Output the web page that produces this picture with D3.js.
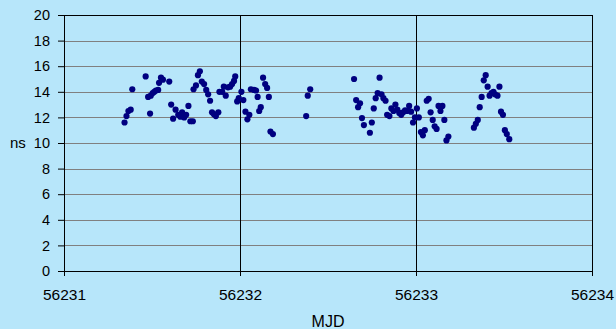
<!DOCTYPE html>
<html>
<head>
<meta charset="utf-8">
<script src="https://cdn.jsdelivr.net/npm/d3@7"></script>
<style>
  html, body { margin: 0; padding: 0; background: #b7e6fa; }
  svg { display: block; }
  text { font-family: "Liberation Sans", Arial, sans-serif; fill: #000; }
</style>
</head>
<body>
<div id="chart"></div>
<script>
// MJD of each measurement
const mjd = [
  56231.344, 56231.355, 56231.366, 56231.379, 56231.388, 56231.464, 56231.478, 56231.489,
  56231.493, 56231.504, 56231.513, 56231.522, 56231.535, 56231.540, 56231.551, 56231.562,
  56231.598, 56231.609, 56231.620, 56231.634, 56231.649, 56231.661, 56231.671, 56231.683,
  56231.694, 56231.707, 56231.718, 56231.732, 56231.736, 56231.750, 56231.761, 56231.772,
  56231.783, 56231.796, 56231.808, 56231.819, 56231.830, 56231.841, 56231.852, 56231.863,
  56231.877, 56231.883, 56231.899, 56231.908, 56231.919, 56231.932, 56231.944, 56231.955,
  56231.966, 56231.973, 56231.984, 56231.993, 56232.008, 56232.019, 56232.031, 56232.042,
  56232.053, 56232.062, 56232.080, 56232.091, 56232.100, 56232.109, 56232.118, 56232.131,
  56232.143, 56232.154, 56232.164, 56232.173, 56232.187,
  56232.376, 56232.385, 56232.399,
  56232.648, 56232.660, 56232.671, 56232.682, 56232.693, 56232.704, 56232.738, 56232.749,
  56232.760, 56232.771, 56232.782, 56232.793, 56232.804, 56232.815, 56232.827, 56232.836,
  56232.849, 56232.860, 56232.872, 56232.883, 56232.894, 56232.905, 56232.916, 56232.927,
  56232.938, 56232.949, 56232.961, 56232.972, 56232.983, 56232.994, 56233.005, 56233.016,
  56233.028, 56233.039, 56233.050, 56233.061, 56233.072, 56233.083, 56233.095, 56233.106,
  56233.117, 56233.128, 56233.139, 56233.150, 56233.161, 56233.173, 56233.184,
  56233.329, 56233.340, 56233.351, 56233.362, 56233.373, 56233.385, 56233.396, 56233.407,
  56233.418, 56233.429, 56233.440, 56233.449, 56233.463, 56233.474, 56233.483, 56233.494,
  56233.505, 56233.516, 56233.530
];
// offset in ns
const ns = [
  11.6, 12.1, 12.5, 12.6, 14.2, 15.2, 13.6, 12.3,
  13.7, 13.9, 14.0, 14.1, 14.15, 14.7, 15.1, 14.95,
  14.8, 13.0, 11.9, 12.6, 12.2, 12.05, 12.4, 12.0,
  12.2, 12.9, 11.7, 11.7, 14.2, 14.5, 15.3, 15.6,
  14.8, 14.6, 14.15, 13.8, 13.3, 12.4, 12.25, 12.1,
  12.4, 14.0, 14.0, 14.4, 13.7, 14.35, 14.4, 14.6,
  14.85, 15.2, 13.25, 13.5, 14.0, 13.35, 12.45, 11.85,
  12.2, 14.2, 14.15, 14.1, 13.6, 12.5, 12.8, 15.1,
  14.6, 14.3, 13.6, 10.9, 10.7,
  12.1, 13.7, 14.2,
  15.0, 13.35, 12.8, 13.1, 11.95, 11.4, 10.8, 11.6,
  12.7, 13.5, 13.9, 15.1, 13.8, 13.5, 13.3, 12.2,
  12.1, 12.7, 12.5, 13.0, 12.6, 12.35, 12.2, 12.4,
  12.55, 12.5, 12.9, 12.45, 11.6, 12.0, 12.7, 12.0,
  10.85, 10.6, 11.0, 13.3, 13.45, 12.4, 11.8, 11.3,
  11.1, 12.9, 12.5, 12.9, 11.8, 10.2, 10.5,
  11.2, 11.5, 11.8, 12.8, 13.6, 14.9, 15.3, 14.4,
  13.7, 13.9, 14.0, 13.8, 13.7, 14.4, 12.45, 12.2,
  11.0, 10.7, 10.3
];
const xTicks = [56231, 56232, 56233, 56234];
const yTicks = [0, 2, 4, 6, 8, 10, 12, 14, 16, 18, 20];

const W = 616, H = 329;
const margin = { top: 15, right: 24, bottom: 58, left: 64 };
const width = W - margin.left - margin.right;
const height = H - margin.top - margin.bottom;

const svg = d3.select('#chart').append('svg')
  .attr('width', W).attr('height', H);
const g = svg.append('g')
  .attr('transform', `translate(${margin.left},${margin.top})`);

const x = d3.scaleLinear().domain([56231, 56234]).range([0, width]);
const y = d3.scaleLinear().domain([0, 20]).range([height, 0]);

// horizontal gridlines (grey), top one black
g.selectAll('.hgrid').data(yTicks.filter(d => d > 0))
  .enter().append('line')
  .attr('x1', 0).attr('x2', width)
  .attr('y1', d => Math.round(y(d)) + 0.5).attr('y2', d => Math.round(y(d)) + 0.5)
  .attr('stroke', d => d === 20 ? '#000' : '#808080')
  .attr('stroke-width', 1);

// vertical gridlines (black)
g.selectAll('.vgrid').data(xTicks.filter(d => d > 56231))
  .enter().append('line')
  .attr('x1', d => Math.round(x(d)) + 0.5).attr('x2', d => Math.round(x(d)) + 0.5)
  .attr('y1', 0).attr('y2', height)
  .attr('stroke', '#000').attr('stroke-width', 1);

// axes
const yAxis = g.append('g')
  .call(d3.axisLeft(y).tickValues(yTicks).tickSize(6).tickPadding(8).tickFormat(d3.format('d')));
yAxis.select('.domain').attr('d', `M0.5,0V${height}`);
yAxis.selectAll('text').style('font-size', '14.5px').attr('font-family', null);

const xAxis = g.append('g')
  .attr('transform', `translate(0,${height})`)
  .call(d3.axisBottom(x).tickValues(xTicks).tickSize(5).tickPadding(13).tickFormat(d3.format('d')));
xAxis.select('.domain').attr('d', `M0,0.5H${width}`);
xAxis.selectAll('text').style('font-size', '15.5px').attr('font-family', null);

g.selectAll('.domain').attr('stroke', '#000');
g.selectAll('.tick line').attr('stroke', '#000');

// points
g.selectAll('.pt').data(mjd)
  .enter().append('circle')
  .attr('cx', d => x(d))
  .attr('cy', (d, i) => y(ns[i]))
  .attr('r', 3.1)
  .attr('fill', '#000080');

// axis titles
svg.append('text')
  .attr('x', 10).attr('y', y(10) + margin.top + 5)
  .style('font-size', '15px')
  .text('ns');

svg.append('text')
  .attr('x', margin.left + width / 2).attr('y', 327)
  .attr('text-anchor', 'middle')
  .style('font-size', '16px')
  .text('MJD');
</script>
</body>
</html>
